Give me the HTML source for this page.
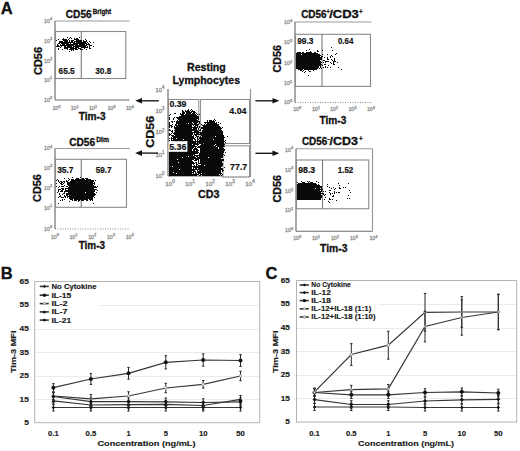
<!DOCTYPE html><html><head><meta charset="utf-8"><style>html,body{margin:0;padding:0;background:#fff;overflow:hidden;font-family:"Liberation Sans",sans-serif;}svg{display:block;}</style></head><body><svg width="520" height="451" viewBox="0 0 520 451" font-family='"Liberation Sans", sans-serif'><rect width="520" height="451" fill="#fff"/><text x="0.80" y="14.00" font-size="16.5" font-weight="bold" fill="#111" text-anchor="start" stroke="#111" stroke-width="0.3" >A</text><text x="0.80" y="279.00" font-size="16.5" font-weight="bold" fill="#111" text-anchor="start" stroke="#111" stroke-width="0.3" >B</text><text x="265.50" y="279.00" font-size="16.5" font-weight="bold" fill="#111" text-anchor="start" stroke="#111" stroke-width="0.3" >C</text><line x1="55" y1="21" x2="129.5" y2="21" stroke="#9a9a9a" stroke-width="1.2" /><line x1="55" y1="21" x2="55" y2="100" stroke="#7a7a7a" stroke-width="1.3" /><line x1="55" y1="100" x2="129.5" y2="100" stroke="#6a6a6a" stroke-width="1.2" /><text x="52.20" y="22.50" font-size="5.3" fill="#7a7a7a" stroke="#999" stroke-width="0.3" text-anchor="end">10<tspan font-size="4.03" dy="-2.01">4</tspan></text><text x="52.20" y="42.50" font-size="5.3" fill="#7a7a7a" stroke="#999" stroke-width="0.3" text-anchor="end">10<tspan font-size="4.03" dy="-2.01">3</tspan></text><text x="52.20" y="62.50" font-size="5.3" fill="#7a7a7a" stroke="#999" stroke-width="0.3" text-anchor="end">10<tspan font-size="4.03" dy="-2.01">2</tspan></text><text x="52.20" y="81.50" font-size="5.3" fill="#7a7a7a" stroke="#999" stroke-width="0.3" text-anchor="end">10<tspan font-size="4.03" dy="-2.01">1</tspan></text><text x="52.20" y="101.50" font-size="5.3" fill="#7a7a7a" stroke="#999" stroke-width="0.3" text-anchor="end">10<tspan font-size="4.03" dy="-2.01">0</tspan></text><text x="56.50" y="110.00" font-size="5.3" fill="#7a7a7a" stroke="#999" stroke-width="0.3" text-anchor="middle">10<tspan font-size="4.03" dy="-2.01">0</tspan></text><text x="74.75" y="110.00" font-size="5.3" fill="#7a7a7a" stroke="#999" stroke-width="0.3" text-anchor="middle">10<tspan font-size="4.03" dy="-2.01">1</tspan></text><text x="93.00" y="110.00" font-size="5.3" fill="#7a7a7a" stroke="#999" stroke-width="0.3" text-anchor="middle">10<tspan font-size="4.03" dy="-2.01">2</tspan></text><text x="111.50" y="110.00" font-size="5.3" fill="#7a7a7a" stroke="#999" stroke-width="0.3" text-anchor="middle">10<tspan font-size="4.03" dy="-2.01">3</tspan></text><text x="130.00" y="110.00" font-size="5.3" fill="#7a7a7a" stroke="#999" stroke-width="0.3" text-anchor="middle">10<tspan font-size="4.03" dy="-2.01">4</tspan></text><rect x="55.5" y="31.5" width="70.25" height="47" stroke="#8a8a8a" stroke-width="1.1" fill="none"/><line x1="81.3" y1="31.5" x2="81.3" y2="78.5" stroke="#7a7a7a" stroke-width="1.1" /><text x="58.50" y="74.30" font-size="9.8" font-weight="bold" fill="#111" text-anchor="start" stroke="#111" stroke-width="0.2" textLength="16.20" lengthAdjust="spacingAndGlyphs" >65.5</text><text x="95.30" y="74.30" font-size="9.8" font-weight="bold" fill="#111" text-anchor="start" stroke="#111" stroke-width="0.2" textLength="16.00" lengthAdjust="spacingAndGlyphs" >30.8</text><text x="65.80" y="17.90" font-size="10" font-weight="bold" fill="#111" text-anchor="start" stroke="#111" stroke-width="0.3" textLength="25.90" lengthAdjust="spacingAndGlyphs" >CD56</text><text x="92.80" y="14.40" font-size="6.8" font-weight="bold" fill="#111" text-anchor="start" stroke="#111" stroke-width="0.3" textLength="18.40" lengthAdjust="spacingAndGlyphs" >Bright</text><text x="42.00" y="61.00" font-size="11" font-weight="bold" fill="#111" text-anchor="middle" stroke="#111" stroke-width="0.3" textLength="28.00" lengthAdjust="spacingAndGlyphs" transform="rotate(-90 42.00 61.00)" >CD56</text><text x="78.70" y="120.10" font-size="10.5" font-weight="bold" fill="#111" text-anchor="start" stroke="#111" stroke-width="0.3" textLength="26.90" lengthAdjust="spacingAndGlyphs" >Tim-3</text><line x1="55" y1="148.5" x2="130" y2="148.5" stroke="#9a9a9a" stroke-width="1.2" /><line x1="55" y1="148.5" x2="55" y2="229" stroke="#7a7a7a" stroke-width="1.3" /><line x1="55" y1="229" x2="130" y2="229" stroke="#8a8a8a" stroke-width="1.0" stroke-dasharray="1 1.5"/><text x="52.20" y="150.25" font-size="5.3" fill="#7a7a7a" stroke="#999" stroke-width="0.3" text-anchor="end">10<tspan font-size="4.03" dy="-2.01">4</tspan></text><text x="52.20" y="169.50" font-size="5.3" fill="#7a7a7a" stroke="#999" stroke-width="0.3" text-anchor="end">10<tspan font-size="4.03" dy="-2.01">3</tspan></text><text x="52.20" y="189.50" font-size="5.3" fill="#7a7a7a" stroke="#999" stroke-width="0.3" text-anchor="end">10<tspan font-size="4.03" dy="-2.01">2</tspan></text><text x="52.20" y="209.50" font-size="5.3" fill="#7a7a7a" stroke="#999" stroke-width="0.3" text-anchor="end">10<tspan font-size="4.03" dy="-2.01">1</tspan></text><text x="52.20" y="230.50" font-size="5.3" fill="#7a7a7a" stroke="#999" stroke-width="0.3" text-anchor="end">10<tspan font-size="4.03" dy="-2.01">0</tspan></text><text x="55.00" y="238.50" font-size="5.3" fill="#7a7a7a" stroke="#999" stroke-width="0.3" text-anchor="middle">10<tspan font-size="4.03" dy="-2.01">0</tspan></text><text x="73.50" y="238.50" font-size="5.3" fill="#7a7a7a" stroke="#999" stroke-width="0.3" text-anchor="middle">10<tspan font-size="4.03" dy="-2.01">1</tspan></text><text x="92.25" y="238.50" font-size="5.3" fill="#7a7a7a" stroke="#999" stroke-width="0.3" text-anchor="middle">10<tspan font-size="4.03" dy="-2.01">2</tspan></text><text x="111.00" y="238.50" font-size="5.3" fill="#7a7a7a" stroke="#999" stroke-width="0.3" text-anchor="middle">10<tspan font-size="4.03" dy="-2.01">3</tspan></text><text x="129.75" y="238.50" font-size="5.3" fill="#7a7a7a" stroke="#999" stroke-width="0.3" text-anchor="middle">10<tspan font-size="4.03" dy="-2.01">4</tspan></text><rect x="55.5" y="159.3" width="71" height="48" stroke="#8a8a8a" stroke-width="1.1" fill="none"/><line x1="81.25" y1="159.3" x2="81.25" y2="207.3" stroke="#7a7a7a" stroke-width="1.1" /><text x="57.20" y="173.00" font-size="9.8" font-weight="bold" fill="#111" text-anchor="start" stroke="#111" stroke-width="0.2" textLength="16.30" lengthAdjust="spacingAndGlyphs" >35.7</text><text x="95.70" y="173.00" font-size="9.8" font-weight="bold" fill="#111" text-anchor="start" stroke="#111" stroke-width="0.2" textLength="16.00" lengthAdjust="spacingAndGlyphs" >59.7</text><text x="69.20" y="145.60" font-size="10" font-weight="bold" fill="#111" text-anchor="start" stroke="#111" stroke-width="0.3" textLength="26.00" lengthAdjust="spacingAndGlyphs" >CD56</text><text x="96.20" y="142.20" font-size="6.8" font-weight="bold" fill="#111" text-anchor="start" stroke="#111" stroke-width="0.3" textLength="12.80" lengthAdjust="spacingAndGlyphs" >Dim</text><text x="41.30" y="188.00" font-size="11" font-weight="bold" fill="#111" text-anchor="middle" stroke="#111" stroke-width="0.3" textLength="27.80" lengthAdjust="spacingAndGlyphs" transform="rotate(-90 41.30 188.00)" >CD56</text><text x="78.70" y="249.30" font-size="10.5" font-weight="bold" fill="#111" text-anchor="start" stroke="#111" stroke-width="0.3" textLength="26.30" lengthAdjust="spacingAndGlyphs" >Tim-3</text><line x1="295" y1="22" x2="371.5" y2="22" stroke="#9a9a9a" stroke-width="1.2" /><line x1="295" y1="22" x2="295" y2="102.5" stroke="#7a7a7a" stroke-width="1.3" /><line x1="295" y1="102.5" x2="371.5" y2="102.5" stroke="#8a8a8a" stroke-width="1.0" stroke-dasharray="1 1.5"/><text x="292.20" y="24.00" font-size="5.3" fill="#7a7a7a" stroke="#999" stroke-width="0.3" text-anchor="end">10<tspan font-size="4.03" dy="-2.01">4</tspan></text><text x="292.20" y="44.00" font-size="5.3" fill="#7a7a7a" stroke="#999" stroke-width="0.3" text-anchor="end">10<tspan font-size="4.03" dy="-2.01">3</tspan></text><text x="292.20" y="65.25" font-size="5.3" fill="#7a7a7a" stroke="#999" stroke-width="0.3" text-anchor="end">10<tspan font-size="4.03" dy="-2.01">2</tspan></text><text x="292.20" y="85.25" font-size="5.3" fill="#7a7a7a" stroke="#999" stroke-width="0.3" text-anchor="end">10<tspan font-size="4.03" dy="-2.01">1</tspan></text><text x="292.20" y="104.00" font-size="5.3" fill="#7a7a7a" stroke="#999" stroke-width="0.3" text-anchor="end">10<tspan font-size="4.03" dy="-2.01">0</tspan></text><text x="297.25" y="111.30" font-size="5.3" fill="#7a7a7a" stroke="#999" stroke-width="0.3" text-anchor="middle">10<tspan font-size="4.03" dy="-2.01">0</tspan></text><text x="316.00" y="111.30" font-size="5.3" fill="#7a7a7a" stroke="#999" stroke-width="0.3" text-anchor="middle">10<tspan font-size="4.03" dy="-2.01">1</tspan></text><text x="334.00" y="111.30" font-size="5.3" fill="#7a7a7a" stroke="#999" stroke-width="0.3" text-anchor="middle">10<tspan font-size="4.03" dy="-2.01">2</tspan></text><text x="352.50" y="111.30" font-size="5.3" fill="#7a7a7a" stroke="#999" stroke-width="0.3" text-anchor="middle">10<tspan font-size="4.03" dy="-2.01">3</tspan></text><text x="371.00" y="111.30" font-size="5.3" fill="#7a7a7a" stroke="#999" stroke-width="0.3" text-anchor="middle">10<tspan font-size="4.03" dy="-2.01">4</tspan></text><rect x="295.5" y="34.3" width="75" height="52.1" stroke="#8a8a8a" stroke-width="1.1" fill="none"/><line x1="322" y1="34.25" x2="322" y2="87" stroke="#7a7a7a" stroke-width="1.1" /><text x="297.20" y="43.80" font-size="9.8" font-weight="bold" fill="#111" text-anchor="start" stroke="#111" stroke-width="0.2" textLength="16.30" lengthAdjust="spacingAndGlyphs" >99.3</text><text x="337.90" y="43.80" font-size="9.8" font-weight="bold" fill="#111" text-anchor="start" stroke="#111" stroke-width="0.2" textLength="15.40" lengthAdjust="spacingAndGlyphs" >0.64</text><text x="301.20" y="17.70" font-size="10" font-weight="bold" fill="#111" text-anchor="start" stroke="#111" stroke-width="0.3" textLength="25.30" lengthAdjust="spacingAndGlyphs" >CD56</text><text x="326.60" y="14.00" font-size="7" font-weight="bold" fill="#111" text-anchor="start" stroke="#111" stroke-width="0.3" textLength="3.20" lengthAdjust="spacingAndGlyphs" >+</text><text x="329.20" y="17.70" font-size="10" font-weight="bold" fill="#111" text-anchor="start" stroke="#111" stroke-width="0.3" textLength="29.60" lengthAdjust="spacingAndGlyphs" >/CD3</text><text x="359.20" y="14.00" font-size="7" font-weight="bold" fill="#111" text-anchor="start" stroke="#111" stroke-width="0.3" textLength="3.20" lengthAdjust="spacingAndGlyphs" >+</text><text x="281.30" y="58.75" font-size="11" font-weight="bold" fill="#111" text-anchor="middle" stroke="#111" stroke-width="0.3" textLength="27.50" lengthAdjust="spacingAndGlyphs" transform="rotate(-90 281.30 58.75)" >CD56</text><text x="319.50" y="123.60" font-size="10.5" font-weight="bold" fill="#111" text-anchor="start" stroke="#111" stroke-width="0.3" textLength="26.80" lengthAdjust="spacingAndGlyphs" >Tim-3</text><line x1="296" y1="148.75" x2="372.5" y2="148.75" stroke="#9a9a9a" stroke-width="1.2" /><line x1="296" y1="148.75" x2="296" y2="231.25" stroke="#7a7a7a" stroke-width="1.3" /><line x1="296" y1="231.25" x2="372.5" y2="231.25" stroke="#6a6a6a" stroke-width="1.2" /><line x1="372.5" y1="148.75" x2="372.5" y2="231.25" stroke="#9a9a9a" stroke-width="1.2" /><text x="293.20" y="151.50" font-size="5.3" fill="#7a7a7a" stroke="#999" stroke-width="0.3" text-anchor="end">10<tspan font-size="4.03" dy="-2.01">4</tspan></text><text x="293.20" y="171.50" font-size="5.3" fill="#7a7a7a" stroke="#999" stroke-width="0.3" text-anchor="end">10<tspan font-size="4.03" dy="-2.01">3</tspan></text><text x="293.20" y="192.75" font-size="5.3" fill="#7a7a7a" stroke="#999" stroke-width="0.3" text-anchor="end">10<tspan font-size="4.03" dy="-2.01">2</tspan></text><text x="293.20" y="212.00" font-size="5.3" fill="#7a7a7a" stroke="#999" stroke-width="0.3" text-anchor="end">10<tspan font-size="4.03" dy="-2.01">1</tspan></text><text x="293.20" y="232.00" font-size="5.3" fill="#7a7a7a" stroke="#999" stroke-width="0.3" text-anchor="end">10<tspan font-size="4.03" dy="-2.01">0</tspan></text><text x="297.25" y="240.00" font-size="5.3" fill="#7a7a7a" stroke="#999" stroke-width="0.3" text-anchor="middle">10<tspan font-size="4.03" dy="-2.01">0</tspan></text><text x="316.00" y="240.00" font-size="5.3" fill="#7a7a7a" stroke="#999" stroke-width="0.3" text-anchor="middle">10<tspan font-size="4.03" dy="-2.01">1</tspan></text><text x="335.00" y="240.00" font-size="5.3" fill="#7a7a7a" stroke="#999" stroke-width="0.3" text-anchor="middle">10<tspan font-size="4.03" dy="-2.01">2</tspan></text><text x="354.00" y="240.00" font-size="5.3" fill="#7a7a7a" stroke="#999" stroke-width="0.3" text-anchor="middle">10<tspan font-size="4.03" dy="-2.01">3</tspan></text><text x="373.50" y="240.00" font-size="5.3" fill="#7a7a7a" stroke="#999" stroke-width="0.3" text-anchor="middle">10<tspan font-size="4.03" dy="-2.01">4</tspan></text><rect x="296.5" y="160" width="72.25" height="48.75" stroke="#8a8a8a" stroke-width="1.1" fill="none"/><line x1="322.5" y1="160" x2="322.5" y2="208.75" stroke="#7a7a7a" stroke-width="1.1" /><text x="298.20" y="173.40" font-size="9.8" font-weight="bold" fill="#111" text-anchor="start" stroke="#111" stroke-width="0.2" textLength="17.00" lengthAdjust="spacingAndGlyphs" >98.3</text><text x="337.80" y="173.40" font-size="9.8" font-weight="bold" fill="#111" text-anchor="start" stroke="#111" stroke-width="0.2" textLength="15.50" lengthAdjust="spacingAndGlyphs" >1.52</text><text x="301.90" y="144.60" font-size="10" font-weight="bold" fill="#111" text-anchor="start" stroke="#111" stroke-width="0.3" textLength="25.40" lengthAdjust="spacingAndGlyphs" >CD56</text><text x="327.30" y="140.50" font-size="7" font-weight="bold" fill="#111" text-anchor="start" stroke="#111" stroke-width="0.3" textLength="2.60" lengthAdjust="spacingAndGlyphs" >-</text><text x="329.60" y="144.60" font-size="10" font-weight="bold" fill="#111" text-anchor="start" stroke="#111" stroke-width="0.3" textLength="28.40" lengthAdjust="spacingAndGlyphs" >/CD3</text><text x="359.20" y="141.00" font-size="7" font-weight="bold" fill="#111" text-anchor="start" stroke="#111" stroke-width="0.3" textLength="3.20" lengthAdjust="spacingAndGlyphs" >+</text><text x="281.30" y="188.75" font-size="11" font-weight="bold" fill="#111" text-anchor="middle" stroke="#111" stroke-width="0.3" textLength="27.50" lengthAdjust="spacingAndGlyphs" transform="rotate(-90 281.30 188.75)" >CD56</text><text x="320.00" y="252.40" font-size="10.5" font-weight="bold" fill="#111" text-anchor="start" stroke="#111" stroke-width="0.3" textLength="27.50" lengthAdjust="spacingAndGlyphs" >Tim-3</text><text x="187.00" y="70.60" font-size="11" font-weight="bold" fill="#111" text-anchor="start" stroke="#111" stroke-width="0.3" textLength="38.80" lengthAdjust="spacingAndGlyphs" >Resting</text><text x="172.50" y="83.60" font-size="11" font-weight="bold" fill="#111" text-anchor="start" stroke="#111" stroke-width="0.3" textLength="67.50" lengthAdjust="spacingAndGlyphs" >Lymphocytes</text><line x1="168" y1="89" x2="168" y2="176" stroke="#7a7a7a" stroke-width="1.3" /><line x1="250.5" y1="89" x2="250.5" y2="177" stroke="#9a9a9a" stroke-width="1.2" /><line x1="168" y1="176" x2="223" y2="176" stroke="#6a6a6a" stroke-width="1.2" /><line x1="223" y1="177" x2="249" y2="177" stroke="#8a8a8a" stroke-width="1.0" stroke-dasharray="1 1.5"/><rect x="168.5" y="99.5" width="30.3" height="44.0" stroke="#8a8a8a" stroke-width="1.0" fill="none"/><rect x="200.6" y="99.5" width="48.9" height="44.0" stroke="#8a8a8a" stroke-width="1.0" fill="none"/><rect x="223" y="145.8" width="26.5" height="31.2" stroke="#8a8a8a" stroke-width="1.0" fill="none"/><text x="164.40" y="91.50" font-size="5.8" fill="#7a7a7a" stroke="#999" stroke-width="0.3" text-anchor="end">10<tspan font-size="4.41" dy="-2.20">4</tspan></text><text x="164.40" y="112.50" font-size="5.8" fill="#7a7a7a" stroke="#999" stroke-width="0.3" text-anchor="end">10<tspan font-size="4.41" dy="-2.20">3</tspan></text><text x="164.40" y="134.00" font-size="5.8" fill="#7a7a7a" stroke="#999" stroke-width="0.3" text-anchor="end">10<tspan font-size="4.41" dy="-2.20">2</tspan></text><text x="164.40" y="156.50" font-size="5.8" fill="#7a7a7a" stroke="#999" stroke-width="0.3" text-anchor="end">10<tspan font-size="4.41" dy="-2.20">1</tspan></text><text x="164.40" y="177.50" font-size="5.8" fill="#7a7a7a" stroke="#999" stroke-width="0.3" text-anchor="end">10<tspan font-size="4.41" dy="-2.20">0</tspan></text><text x="170.05" y="185.60" font-size="6.2" fill="#7a7a7a" stroke="#999" stroke-width="0.3" text-anchor="middle">10<tspan font-size="4.71" dy="-2.36">0</tspan></text><text x="190.05" y="185.60" font-size="6.2" fill="#7a7a7a" stroke="#999" stroke-width="0.3" text-anchor="middle">10<tspan font-size="4.71" dy="-2.36">1</tspan></text><text x="210.05" y="185.60" font-size="6.2" fill="#7a7a7a" stroke="#999" stroke-width="0.3" text-anchor="middle">10<tspan font-size="4.71" dy="-2.36">2</tspan></text><text x="230.05" y="185.60" font-size="6.2" fill="#7a7a7a" stroke="#999" stroke-width="0.3" text-anchor="middle">10<tspan font-size="4.71" dy="-2.36">3</tspan></text><text x="250.05" y="185.60" font-size="6.2" fill="#7a7a7a" stroke="#999" stroke-width="0.3" text-anchor="middle">10<tspan font-size="4.71" dy="-2.36">4</tspan></text><text x="153.90" y="131.80" font-size="11.5" font-weight="bold" fill="#111" text-anchor="middle" stroke="#111" stroke-width="0.3" textLength="32.00" lengthAdjust="spacingAndGlyphs" transform="rotate(-90 153.90 131.80)" >CD56</text><text x="198.00" y="198.20" font-size="11" font-weight="bold" fill="#111" text-anchor="start" stroke="#111" stroke-width="0.3" textLength="21.50" lengthAdjust="spacingAndGlyphs" >CD3</text><line x1="158.8" y1="100.8" x2="141.5" y2="100.8" stroke="#151515" stroke-width="1.35" /><path d="M135.2 100.8 L142.0 98.0 L142.0 103.6Z" fill="#111"/><line x1="158.2" y1="153.1" x2="141.5" y2="153.1" stroke="#151515" stroke-width="1.35" /><path d="M135.2 153.1 L142.0 150.29999999999998 L142.0 155.9Z" fill="#111"/><line x1="255.4" y1="100.8" x2="273.0" y2="100.8" stroke="#151515" stroke-width="1.35" /><path d="M279.3 100.8 L272.5 98.0 L272.5 103.6Z" fill="#111"/><line x1="255.4" y1="153.3" x2="273.0" y2="153.3" stroke="#151515" stroke-width="1.35" /><path d="M279.3 153.3 L272.5 150.5 L272.5 156.10000000000002Z" fill="#111"/><path fill="#0a0a0a" d="M67 37h1v1h-1zM70 37h1v1h-1zM79 37h1v1h-1zM63 38h1v1h-1zM69 38h1v1h-1zM71 38h1v1h-1zM74 38h1v1h-1zM76 38h2v1h-2zM58 39h1v1h-1zM62 39h5v1h-5zM68 39h1v1h-1zM74 39h5v1h-5zM85 39h1v1h-1zM56 40h1v1h-1zM63 40h5v1h-5zM69 40h1v1h-1zM71 40h3v1h-3zM76 40h6v1h-6zM83 40h1v1h-1zM86 40h1v1h-1zM59 41h4v1h-4zM64 41h4v1h-4zM69 41h1v1h-1zM71 41h2v1h-2zM74 41h8v1h-8zM83 41h4v1h-4zM89 41h1v1h-1zM59 42h16v1h-16zM76 42h10v1h-10zM87 42h1v1h-1zM90 42h1v1h-1zM93 42h1v1h-1zM58 43h2v1h-2zM61 43h8v1h-8zM70 43h1v1h-1zM73 43h14v1h-14zM88 43h1v1h-1zM57 44h1v1h-1zM60 44h1v1h-1zM62 44h3v1h-3zM66 44h12v1h-12zM79 44h6v1h-6zM86 44h4v1h-4zM57 45h2v1h-2zM60 45h14v1h-14zM75 45h12v1h-12zM89 45h3v1h-3zM56 46h4v1h-4zM61 46h1v1h-1zM64 46h2v1h-2zM67 46h5v1h-5zM73 46h13v1h-13zM87 46h1v1h-1zM89 46h1v1h-1zM93 46h1v1h-1zM60 47h1v1h-1zM64 47h10v1h-10zM75 47h4v1h-4zM81 47h7v1h-7zM89 47h1v1h-1zM331 47h1v1h-1zM58 48h1v1h-1zM64 48h4v1h-4zM70 48h7v1h-7zM78 48h3v1h-3zM84 48h1v1h-1zM89 48h2v1h-2zM58 49h1v1h-1zM62 49h1v1h-1zM67 49h1v1h-1zM69 49h5v1h-5zM75 49h3v1h-3zM80 49h3v1h-3zM86 49h1v1h-1zM309 49h1v1h-1zM71 50h1v1h-1zM73 50h1v1h-1zM306 50h1v1h-1zM317 50h1v1h-1zM322 50h1v1h-1zM332 50h1v1h-1zM69 51h1v1h-1zM310 51h1v1h-1zM317 51h2v1h-2zM297 52h4v1h-4zM302 52h2v1h-2zM306 52h6v1h-6zM314 52h2v1h-2zM296 53h22v1h-22zM336 53h1v1h-1zM296 54h5v1h-5zM302 54h18v1h-18zM322 54h1v1h-1zM327 54h1v1h-1zM335 54h1v1h-1zM296 55h25v1h-25zM331 55h1v1h-1zM296 56h24v1h-24zM321 56h2v1h-2zM330 56h1v1h-1zM332 56h1v1h-1zM296 57h26v1h-26zM324 57h1v1h-1zM327 57h1v1h-1zM330 57h1v1h-1zM296 58h26v1h-26zM327 58h1v1h-1zM334 58h1v1h-1zM296 59h26v1h-26zM327 59h2v1h-2zM331 59h1v1h-1zM334 59h1v1h-1zM296 60h24v1h-24zM323 60h2v1h-2zM332 60h1v1h-1zM334 60h1v1h-1zM296 61h25v1h-25zM325 61h4v1h-4zM333 61h3v1h-3zM296 62h26v1h-26zM323 62h1v1h-1zM325 62h1v1h-1zM330 62h1v1h-1zM333 62h1v1h-1zM337 62h1v1h-1zM296 63h25v1h-25zM331 63h1v1h-1zM333 63h1v1h-1zM296 64h26v1h-26zM324 64h2v1h-2zM333 64h2v1h-2zM296 65h25v1h-25zM322 65h1v1h-1zM328 65h1v1h-1zM296 66h23v1h-23zM320 66h1v1h-1zM325 66h1v1h-1zM296 67h23v1h-23zM320 67h1v1h-1zM323 67h1v1h-1zM325 67h1v1h-1zM327 67h1v1h-1zM330 67h1v1h-1zM338 67h1v1h-1zM296 68h22v1h-22zM319 68h1v1h-1zM321 68h1v1h-1zM298 69h5v1h-5zM304 69h13v1h-13zM341 69h1v1h-1zM300 70h2v1h-2zM303 70h1v1h-1zM308 70h1v1h-1zM313 70h1v1h-1zM302 71h1v1h-1zM305 71h1v1h-1zM309 71h2v1h-2zM304 72h1v1h-1zM308 75h1v1h-1zM188 109h1v1h-1zM191 109h1v1h-1zM182 110h1v1h-1zM185 110h1v1h-1zM187 110h2v1h-2zM190 110h1v1h-1zM192 110h1v1h-1zM182 111h2v1h-2zM185 111h5v1h-5zM191 111h4v1h-4zM182 112h3v1h-3zM186 112h6v1h-6zM193 112h3v1h-3zM174 113h2v1h-2zM180 113h1v1h-1zM182 113h3v1h-3zM186 113h5v1h-5zM192 113h3v1h-3zM196 113h1v1h-1zM170 114h1v1h-1zM180 114h4v1h-4zM185 114h11v1h-11zM197 114h1v1h-1zM199 114h1v1h-1zM169 115h1v1h-1zM181 115h16v1h-16zM179 116h20v1h-20zM169 117h1v1h-1zM174 117h1v1h-1zM176 117h23v1h-23zM169 118h1v1h-1zM173 118h1v1h-1zM177 118h22v1h-22zM169 119h1v1h-1zM173 119h1v1h-1zM178 119h19v1h-19zM198 119h1v1h-1zM214 119h1v1h-1zM177 120h1v1h-1zM179 120h19v1h-19zM207 120h1v1h-1zM209 120h3v1h-3zM213 120h1v1h-1zM215 120h1v1h-1zM171 121h2v1h-2zM174 121h1v1h-1zM176 121h24v1h-24zM207 121h1v1h-1zM209 121h6v1h-6zM169 122h1v1h-1zM172 122h1v1h-1zM176 122h16v1h-16zM193 122h5v1h-5zM199 122h1v1h-1zM204 122h11v1h-11zM216 122h1v1h-1zM218 122h1v1h-1zM169 123h1v1h-1zM176 123h12v1h-12zM189 123h4v1h-4zM194 123h3v1h-3zM199 123h1v1h-1zM205 123h1v1h-1zM207 123h10v1h-10zM220 123h1v1h-1zM169 124h1v1h-1zM172 124h1v1h-1zM175 124h2v1h-2zM178 124h21v1h-21zM201 124h1v1h-1zM204 124h1v1h-1zM206 124h13v1h-13zM169 125h3v1h-3zM175 125h17v1h-17zM193 125h1v1h-1zM195 125h3v1h-3zM202 125h17v1h-17zM169 126h1v1h-1zM171 126h2v1h-2zM174 126h1v1h-1zM176 126h16v1h-16zM194 126h2v1h-2zM197 126h1v1h-1zM199 126h1v1h-1zM203 126h17v1h-17zM169 127h1v1h-1zM171 127h1v1h-1zM174 127h24v1h-24zM199 127h1v1h-1zM201 127h20v1h-20zM222 127h1v1h-1zM174 128h18v1h-18zM193 128h4v1h-4zM198 128h1v1h-1zM201 128h21v1h-21zM169 129h1v1h-1zM175 129h22v1h-22zM198 129h1v1h-1zM200 129h1v1h-1zM203 129h18v1h-18zM169 130h2v1h-2zM172 130h1v1h-1zM174 130h24v1h-24zM199 130h2v1h-2zM202 130h20v1h-20zM171 131h2v1h-2zM175 131h17v1h-17zM194 131h5v1h-5zM202 131h21v1h-21zM172 132h1v1h-1zM174 132h49v1h-49zM169 133h1v1h-1zM171 133h1v1h-1zM173 133h20v1h-20zM194 133h1v1h-1zM196 133h3v1h-3zM200 133h23v1h-23zM169 134h2v1h-2zM174 134h19v1h-19zM194 134h29v1h-29zM169 135h1v1h-1zM171 135h3v1h-3zM175 135h17v1h-17zM193 135h1v1h-1zM195 135h2v1h-2zM201 135h23v1h-23zM172 136h22v1h-22zM196 136h3v1h-3zM200 136h1v1h-1zM202 136h13v1h-13zM216 136h8v1h-8zM227 136h1v1h-1zM171 137h1v1h-1zM173 137h21v1h-21zM195 137h1v1h-1zM197 137h1v1h-1zM199 137h26v1h-26zM169 138h1v1h-1zM171 138h5v1h-5zM177 138h18v1h-18zM197 138h1v1h-1zM199 138h25v1h-25zM171 139h1v1h-1zM173 139h10v1h-10zM184 139h9v1h-9zM194 139h2v1h-2zM197 139h2v1h-2zM200 139h13v1h-13zM214 139h10v1h-10zM169 140h1v1h-1zM171 140h22v1h-22zM195 140h1v1h-1zM197 140h1v1h-1zM199 140h25v1h-25zM225 140h1v1h-1zM169 141h1v1h-1zM173 141h13v1h-13zM187 141h38v1h-38zM169 142h1v1h-1zM171 142h1v1h-1zM173 142h23v1h-23zM197 142h27v1h-27zM225 142h1v1h-1zM169 143h4v1h-4zM174 143h9v1h-9zM184 143h1v1h-1zM186 143h12v1h-12zM199 143h4v1h-4zM204 143h20v1h-20zM169 144h23v1h-23zM193 144h6v1h-6zM201 144h14v1h-14zM216 144h9v1h-9zM169 145h26v1h-26zM197 145h1v1h-1zM200 145h14v1h-14zM215 145h9v1h-9zM170 146h27v1h-27zM198 146h18v1h-18zM217 146h8v1h-8zM169 147h25v1h-25zM195 147h1v1h-1zM197 147h21v1h-21zM219 147h4v1h-4zM169 148h24v1h-24zM194 148h3v1h-3zM200 148h18v1h-18zM219 148h5v1h-5zM169 149h7v1h-7zM177 149h15v1h-15zM193 149h5v1h-5zM200 149h25v1h-25zM169 150h23v1h-23zM193 150h2v1h-2zM196 150h3v1h-3zM200 150h25v1h-25zM169 151h29v1h-29zM200 151h24v1h-24zM169 152h30v1h-30zM200 152h24v1h-24zM225 152h1v1h-1zM169 153h29v1h-29zM199 153h24v1h-24zM169 154h26v1h-26zM199 154h25v1h-25zM169 155h24v1h-24zM194 155h29v1h-29zM224 155h1v1h-1zM169 156h19v1h-19zM189 156h6v1h-6zM196 156h2v1h-2zM199 156h24v1h-24zM169 157h13v1h-13zM183 157h13v1h-13zM197 157h11v1h-11zM209 157h14v1h-14zM169 158h52v1h-52zM169 159h8v1h-8zM178 159h16v1h-16zM195 159h4v1h-4zM200 159h24v1h-24zM169 160h23v1h-23zM194 160h3v1h-3zM198 160h1v1h-1zM200 160h24v1h-24zM169 161h24v1h-24zM198 161h1v1h-1zM200 161h22v1h-22zM169 162h9v1h-9zM179 162h15v1h-15zM195 162h2v1h-2zM198 162h1v1h-1zM200 162h22v1h-22zM169 163h26v1h-26zM196 163h1v1h-1zM198 163h25v1h-25zM169 164h23v1h-23zM193 164h1v1h-1zM196 164h2v1h-2zM201 164h22v1h-22zM169 165h23v1h-23zM194 165h1v1h-1zM196 165h1v1h-1zM198 165h6v1h-6zM205 165h18v1h-18zM169 166h3v1h-3zM173 166h49v1h-49zM169 167h23v1h-23zM193 167h28v1h-28zM224 167h1v1h-1zM169 168h23v1h-23zM193 168h1v1h-1zM195 168h2v1h-2zM198 168h25v1h-25zM169 169h10v1h-10zM180 169h43v1h-43zM169 170h26v1h-26zM197 170h1v1h-1zM199 170h22v1h-22zM222 170h2v1h-2zM169 171h23v1h-23zM193 171h3v1h-3zM197 171h24v1h-24zM222 171h1v1h-1zM169 172h4v1h-4zM174 172h20v1h-20zM195 172h1v1h-1zM197 172h24v1h-24zM169 173h7v1h-7zM177 173h15v1h-15zM193 173h1v1h-1zM195 173h2v1h-2zM198 173h3v1h-3zM202 173h20v1h-20zM169 174h30v1h-30zM200 174h19v1h-19zM220 174h1v1h-1zM222 174h1v1h-1zM169 175h28v1h-28zM199 175h2v1h-2zM202 175h18v1h-18zM221 175h1v1h-1zM72 177h1v1h-1zM80 177h1v1h-1zM64 178h1v1h-1zM68 178h1v1h-1zM76 178h3v1h-3zM82 178h2v1h-2zM85 178h3v1h-3zM57 179h1v1h-1zM69 179h1v1h-1zM71 179h3v1h-3zM75 179h10v1h-10zM86 179h5v1h-5zM56 180h1v1h-1zM58 180h1v1h-1zM66 180h1v1h-1zM68 180h1v1h-1zM71 180h23v1h-23zM95 180h1v1h-1zM58 181h1v1h-1zM60 181h2v1h-2zM63 181h2v1h-2zM66 181h2v1h-2zM70 181h24v1h-24zM301 181h1v1h-1zM307 181h1v1h-1zM309 181h1v1h-1zM316 181h1v1h-1zM59 182h1v1h-1zM61 182h2v1h-2zM64 182h1v1h-1zM67 182h26v1h-26zM94 182h1v1h-1zM297 182h1v1h-1zM302 182h3v1h-3zM308 182h1v1h-1zM310 182h3v1h-3zM318 182h1v1h-1zM56 183h1v1h-1zM60 183h2v1h-2zM63 183h1v1h-1zM67 183h28v1h-28zM298 183h18v1h-18zM338 183h1v1h-1zM348 183h1v1h-1zM61 184h2v1h-2zM67 184h26v1h-26zM94 184h1v1h-1zM297 184h20v1h-20zM318 184h1v1h-1zM327 184h1v1h-1zM64 185h1v1h-1zM68 185h26v1h-26zM297 185h23v1h-23zM339 185h1v1h-1zM56 186h1v1h-1zM59 186h1v1h-1zM61 186h3v1h-3zM66 186h2v1h-2zM69 186h27v1h-27zM97 186h1v1h-1zM297 186h25v1h-25zM327 186h1v1h-1zM58 187h1v1h-1zM68 187h29v1h-29zM297 187h25v1h-25zM329 187h1v1h-1zM333 187h1v1h-1zM339 187h1v1h-1zM343 187h1v1h-1zM345 187h1v1h-1zM61 188h3v1h-3zM65 188h29v1h-29zM297 188h18v1h-18zM316 188h4v1h-4zM321 188h1v1h-1zM331 188h1v1h-1zM335 188h1v1h-1zM339 188h2v1h-2zM58 189h3v1h-3zM62 189h2v1h-2zM65 189h1v1h-1zM68 189h29v1h-29zM297 189h26v1h-26zM334 189h1v1h-1zM58 190h1v1h-1zM61 190h2v1h-2zM65 190h30v1h-30zM97 190h1v1h-1zM297 190h23v1h-23zM321 190h1v1h-1zM329 190h2v1h-2zM349 190h1v1h-1zM58 191h1v1h-1zM60 191h3v1h-3zM64 191h31v1h-31zM297 191h25v1h-25zM323 191h1v1h-1zM325 191h1v1h-1zM334 191h1v1h-1zM57 192h1v1h-1zM64 192h1v1h-1zM68 192h17v1h-17zM86 192h8v1h-8zM96 192h1v1h-1zM297 192h24v1h-24zM329 192h1v1h-1zM334 192h1v1h-1zM336 192h1v1h-1zM338 192h2v1h-2zM350 192h1v1h-1zM59 193h1v1h-1zM63 193h2v1h-2zM66 193h29v1h-29zM297 193h27v1h-27zM330 193h1v1h-1zM332 193h1v1h-1zM334 193h1v1h-1zM59 194h1v1h-1zM62 194h1v1h-1zM66 194h30v1h-30zM297 194h24v1h-24zM323 194h1v1h-1zM325 194h1v1h-1zM330 194h1v1h-1zM60 195h1v1h-1zM64 195h1v1h-1zM66 195h2v1h-2zM69 195h26v1h-26zM297 195h25v1h-25zM324 195h1v1h-1zM333 195h1v1h-1zM348 195h1v1h-1zM59 196h2v1h-2zM64 196h2v1h-2zM67 196h27v1h-27zM297 196h25v1h-25zM332 196h2v1h-2zM58 197h1v1h-1zM61 197h3v1h-3zM65 197h1v1h-1zM67 197h1v1h-1zM69 197h24v1h-24zM94 197h1v1h-1zM297 197h25v1h-25zM325 197h1v1h-1zM69 198h24v1h-24zM297 198h24v1h-24zM329 198h1v1h-1zM347 198h1v1h-1zM349 198h1v1h-1zM62 199h1v1h-1zM64 199h1v1h-1zM70 199h3v1h-3zM74 199h14v1h-14zM89 199h4v1h-4zM297 199h24v1h-24zM324 199h1v1h-1zM329 199h2v1h-2zM332 199h1v1h-1zM60 200h1v1h-1zM62 200h1v1h-1zM72 200h1v1h-1zM74 200h3v1h-3zM78 200h2v1h-2zM81 200h3v1h-3zM86 200h2v1h-2zM90 200h1v1h-1zM92 200h1v1h-1zM336 200h1v1h-1zM69 201h1v1h-1zM78 201h1v1h-1zM328 201h1v1h-1zM329 202h1v1h-1zM58 203h1v1h-1zM93 203h1v1h-1z"/><rect x="168.6" y="141.2" width="18.8" height="10.6" fill="#fff"/><text x="169.40" y="107.10" font-size="9.8" font-weight="bold" fill="#111" text-anchor="start" stroke="#111" stroke-width="0.2" textLength="17.00" lengthAdjust="spacingAndGlyphs" >0.39</text><text x="229.30" y="114.30" font-size="9.8" font-weight="bold" fill="#111" text-anchor="start" stroke="#111" stroke-width="0.2" textLength="17.20" lengthAdjust="spacingAndGlyphs" >4.04</text><text x="169.20" y="150.10" font-size="9.8" font-weight="bold" fill="#111" text-anchor="start" stroke="#111" stroke-width="0.2" textLength="17.20" lengthAdjust="spacingAndGlyphs" >5.36</text><text x="230.00" y="169.90" font-size="9.8" font-weight="bold" fill="#111" text-anchor="start" stroke="#111" stroke-width="0.2" textLength="17.30" lengthAdjust="spacingAndGlyphs" >77.7</text><line x1="34.7" y1="305.5" x2="259.7" y2="305.5" stroke="#ebebeb" stroke-width="1" /><line x1="34.7" y1="329.5" x2="259.7" y2="329.5" stroke="#ebebeb" stroke-width="1" /><line x1="34.7" y1="352.5" x2="259.7" y2="352.5" stroke="#ebebeb" stroke-width="1" /><line x1="34.7" y1="376.5" x2="259.7" y2="376.5" stroke="#ebebeb" stroke-width="1" /><line x1="34.7" y1="399.5" x2="259.7" y2="399.5" stroke="#ebebeb" stroke-width="1" /><rect x="35.2" y="282.2" width="64.8" height="42.30000000000001" fill="#fff"/><rect x="34.7" y="281.5" width="225.0" height="141.2" stroke="#b4b4b4" stroke-width="1" fill="none"/><text x="28.80" y="283.90" font-size="6.8" font-weight="bold" fill="#1a1a1a" text-anchor="end" stroke="#1a1a1a" stroke-width="0.15" textLength="9.20" lengthAdjust="spacingAndGlyphs" >65</text><text x="28.80" y="307.43" font-size="6.8" font-weight="bold" fill="#1a1a1a" text-anchor="end" stroke="#1a1a1a" stroke-width="0.15" textLength="9.20" lengthAdjust="spacingAndGlyphs" >55</text><text x="28.80" y="330.97" font-size="6.8" font-weight="bold" fill="#1a1a1a" text-anchor="end" stroke="#1a1a1a" stroke-width="0.15" textLength="9.20" lengthAdjust="spacingAndGlyphs" >45</text><text x="28.80" y="354.50" font-size="6.8" font-weight="bold" fill="#1a1a1a" text-anchor="end" stroke="#1a1a1a" stroke-width="0.15" textLength="9.20" lengthAdjust="spacingAndGlyphs" >35</text><text x="28.80" y="378.03" font-size="6.8" font-weight="bold" fill="#1a1a1a" text-anchor="end" stroke="#1a1a1a" stroke-width="0.15" textLength="9.20" lengthAdjust="spacingAndGlyphs" >25</text><text x="28.80" y="401.57" font-size="6.8" font-weight="bold" fill="#1a1a1a" text-anchor="end" stroke="#1a1a1a" stroke-width="0.15" textLength="9.20" lengthAdjust="spacingAndGlyphs" >15</text><text x="28.80" y="425.10" font-size="6.8" font-weight="bold" fill="#1a1a1a" text-anchor="end" stroke="#1a1a1a" stroke-width="0.15" textLength="4.60" lengthAdjust="spacingAndGlyphs" >5</text><text x="53.40" y="435.60" font-size="6.8" font-weight="bold" fill="#1a1a1a" text-anchor="middle" stroke="#1a1a1a" stroke-width="0.15" textLength="10.60" lengthAdjust="spacingAndGlyphs" >0.1</text><text x="90.90" y="435.60" font-size="6.8" font-weight="bold" fill="#1a1a1a" text-anchor="middle" stroke="#1a1a1a" stroke-width="0.15" textLength="10.60" lengthAdjust="spacingAndGlyphs" >0.5</text><text x="128.50" y="435.60" font-size="6.8" font-weight="bold" fill="#1a1a1a" text-anchor="middle" stroke="#1a1a1a" stroke-width="0.15" textLength="4.20" lengthAdjust="spacingAndGlyphs" >1</text><text x="165.80" y="435.60" font-size="6.8" font-weight="bold" fill="#1a1a1a" text-anchor="middle" stroke="#1a1a1a" stroke-width="0.15" textLength="4.20" lengthAdjust="spacingAndGlyphs" >5</text><text x="203.20" y="435.60" font-size="6.8" font-weight="bold" fill="#1a1a1a" text-anchor="middle" stroke="#1a1a1a" stroke-width="0.15" textLength="8.60" lengthAdjust="spacingAndGlyphs" >10</text><text x="240.50" y="435.60" font-size="6.8" font-weight="bold" fill="#1a1a1a" text-anchor="middle" stroke="#1a1a1a" stroke-width="0.15" textLength="8.60" lengthAdjust="spacingAndGlyphs" >50</text><path d="M53.40 407.50 L90.90 407.50 L128.50 407.50 L165.80 407.50 L203.20 407.50 L240.50 407.50" fill="none" stroke="#363636" stroke-width="1.2"/><path d="M53.40 403.97V411.03" stroke="#2a2a2a" stroke-width="1.0" fill="none"/><path d="M52.20 403.97h2.4M52.20 411.03h2.4" stroke="#222" stroke-width="1.0" fill="none"/><path d="M53.40 405.70L55.20 407.50L53.40 409.30L51.60 407.50Z" fill="#111"/><path d="M90.90 403.97V411.03" stroke="#2a2a2a" stroke-width="1.0" fill="none"/><path d="M89.70 403.97h2.4M89.70 411.03h2.4" stroke="#222" stroke-width="1.0" fill="none"/><path d="M90.90 405.70L92.70 407.50L90.90 409.30L89.10 407.50Z" fill="#111"/><path d="M128.50 403.97V411.03" stroke="#2a2a2a" stroke-width="1.0" fill="none"/><path d="M127.30 403.97h2.4M127.30 411.03h2.4" stroke="#222" stroke-width="1.0" fill="none"/><path d="M128.50 405.70L130.30 407.50L128.50 409.30L126.70 407.50Z" fill="#111"/><path d="M165.80 403.97V411.03" stroke="#2a2a2a" stroke-width="1.0" fill="none"/><path d="M164.60 403.97h2.4M164.60 411.03h2.4" stroke="#222" stroke-width="1.0" fill="none"/><path d="M165.80 405.70L167.60 407.50L165.80 409.30L164.00 407.50Z" fill="#111"/><path d="M203.20 403.97V411.03" stroke="#2a2a2a" stroke-width="1.0" fill="none"/><path d="M202.00 403.97h2.4M202.00 411.03h2.4" stroke="#222" stroke-width="1.0" fill="none"/><path d="M203.20 405.70L205.00 407.50L203.20 409.30L201.40 407.50Z" fill="#111"/><path d="M240.50 403.97V411.03" stroke="#2a2a2a" stroke-width="1.0" fill="none"/><path d="M239.30 403.97h2.4M239.30 411.03h2.4" stroke="#222" stroke-width="1.0" fill="none"/><path d="M240.50 405.70L242.30 407.50L240.50 409.30L238.70 407.50Z" fill="#111"/><path d="M53.40 387.70 L90.90 379.00 L128.50 373.30 L165.80 362.30 L203.20 360.00 L240.50 360.50" fill="none" stroke="#363636" stroke-width="1.2"/><path d="M53.40 383.70V391.70" stroke="#2a2a2a" stroke-width="1.0" fill="none"/><path d="M52.20 383.70h2.4M52.20 391.70h2.4" stroke="#222" stroke-width="1.0" fill="none"/><circle cx="53.40" cy="387.70" r="2.0" fill="#111"/><path d="M90.90 373.59V384.41" stroke="#2a2a2a" stroke-width="1.0" fill="none"/><path d="M89.70 373.59h2.4M89.70 384.41h2.4" stroke="#222" stroke-width="1.0" fill="none"/><circle cx="90.90" cy="379.00" r="2.0" fill="#111"/><path d="M128.50 367.42V379.18" stroke="#2a2a2a" stroke-width="1.0" fill="none"/><path d="M127.30 367.42h2.4M127.30 379.18h2.4" stroke="#222" stroke-width="1.0" fill="none"/><circle cx="128.50" cy="373.30" r="2.0" fill="#111"/><path d="M165.80 355.71V368.89" stroke="#2a2a2a" stroke-width="1.0" fill="none"/><path d="M164.60 355.71h2.4M164.60 368.89h2.4" stroke="#222" stroke-width="1.0" fill="none"/><circle cx="165.80" cy="362.30" r="2.0" fill="#111"/><path d="M203.20 353.88V366.12" stroke="#2a2a2a" stroke-width="1.0" fill="none"/><path d="M202.00 353.88h2.4M202.00 366.12h2.4" stroke="#222" stroke-width="1.0" fill="none"/><circle cx="203.20" cy="360.00" r="2.0" fill="#111"/><path d="M240.50 354.62V366.38" stroke="#2a2a2a" stroke-width="1.0" fill="none"/><path d="M239.30 354.62h2.4M239.30 366.38h2.4" stroke="#222" stroke-width="1.0" fill="none"/><circle cx="240.50" cy="360.50" r="2.0" fill="#111"/><path d="M53.40 396.00 L90.90 398.80 L128.50 396.00 L165.80 388.00 L203.20 384.30 L240.50 376.00" fill="none" stroke="#363636" stroke-width="1.2"/><path d="M53.40 392.47V399.53" stroke="#2a2a2a" stroke-width="1.0" fill="none"/><path d="M52.20 392.47h2.4M52.20 399.53h2.4" stroke="#222" stroke-width="1.0" fill="none"/><circle cx="53.40" cy="396.00" r="1.40" fill="#ddd" stroke="#888" stroke-width="0.6"/><path d="M90.90 394.56V403.04" stroke="#2a2a2a" stroke-width="1.0" fill="none"/><path d="M89.70 394.56h2.4M89.70 403.04h2.4" stroke="#222" stroke-width="1.0" fill="none"/><circle cx="90.90" cy="398.80" r="1.40" fill="#ddd" stroke="#888" stroke-width="0.6"/><path d="M128.50 391.76V400.24" stroke="#2a2a2a" stroke-width="1.0" fill="none"/><path d="M127.30 391.76h2.4M127.30 400.24h2.4" stroke="#222" stroke-width="1.0" fill="none"/><circle cx="128.50" cy="396.00" r="1.40" fill="#ddd" stroke="#888" stroke-width="0.6"/><path d="M165.80 383.29V392.71" stroke="#2a2a2a" stroke-width="1.0" fill="none"/><path d="M164.60 383.29h2.4M164.60 392.71h2.4" stroke="#222" stroke-width="1.0" fill="none"/><circle cx="165.80" cy="388.00" r="1.40" fill="#ddd" stroke="#888" stroke-width="0.6"/><path d="M203.20 380.53V388.07" stroke="#2a2a2a" stroke-width="1.0" fill="none"/><path d="M202.00 380.53h2.4M202.00 388.07h2.4" stroke="#222" stroke-width="1.0" fill="none"/><circle cx="203.20" cy="384.30" r="1.40" fill="#ddd" stroke="#888" stroke-width="0.6"/><path d="M240.50 371.29V380.71" stroke="#2a2a2a" stroke-width="1.0" fill="none"/><path d="M239.30 371.29h2.4M239.30 380.71h2.4" stroke="#222" stroke-width="1.0" fill="none"/><circle cx="240.50" cy="376.00" r="1.40" fill="#ddd" stroke="#888" stroke-width="0.6"/><path d="M53.40 400.80 L90.90 405.00 L128.50 404.60 L165.80 404.30 L203.20 405.50 L240.50 399.30" fill="none" stroke="#363636" stroke-width="1.2"/><path d="M53.40 397.03V404.57" stroke="#2a2a2a" stroke-width="1.0" fill="none"/><path d="M52.20 397.03h2.4M52.20 404.57h2.4" stroke="#222" stroke-width="1.0" fill="none"/><path d="M53.40 398.80L55.40 402.40L51.40 402.40Z" fill="#111"/><path d="M90.90 401.23V408.77" stroke="#2a2a2a" stroke-width="1.0" fill="none"/><path d="M89.70 401.23h2.4M89.70 408.77h2.4" stroke="#222" stroke-width="1.0" fill="none"/><path d="M90.90 403.00L92.90 406.60L88.90 406.60Z" fill="#111"/><path d="M128.50 400.83V408.37" stroke="#2a2a2a" stroke-width="1.0" fill="none"/><path d="M127.30 400.83h2.4M127.30 408.37h2.4" stroke="#222" stroke-width="1.0" fill="none"/><path d="M128.50 402.60L130.50 406.20L126.50 406.20Z" fill="#111"/><path d="M165.80 400.53V408.07" stroke="#2a2a2a" stroke-width="1.0" fill="none"/><path d="M164.60 400.53h2.4M164.60 408.07h2.4" stroke="#222" stroke-width="1.0" fill="none"/><path d="M165.80 402.30L167.80 405.90L163.80 405.90Z" fill="#111"/><path d="M203.20 401.73V409.27" stroke="#2a2a2a" stroke-width="1.0" fill="none"/><path d="M202.00 401.73h2.4M202.00 409.27h2.4" stroke="#222" stroke-width="1.0" fill="none"/><path d="M203.20 403.50L205.20 407.10L201.20 407.10Z" fill="#111"/><path d="M240.50 395.53V403.07" stroke="#2a2a2a" stroke-width="1.0" fill="none"/><path d="M239.30 395.53h2.4M239.30 403.07h2.4" stroke="#222" stroke-width="1.0" fill="none"/><path d="M240.50 397.30L242.50 400.90L238.50 400.90Z" fill="#111"/><path d="M53.40 396.50 L90.90 401.70 L128.50 401.70 L165.80 401.80 L203.20 402.50 L240.50 401.80" fill="none" stroke="#363636" stroke-width="1.2"/><path d="M53.40 392.73V400.27" stroke="#2a2a2a" stroke-width="1.0" fill="none"/><path d="M52.20 392.73h2.4M52.20 400.27h2.4" stroke="#222" stroke-width="1.0" fill="none"/><path d="M53.40 394.50L55.40 396.50L53.40 398.50L51.40 396.50Z" fill="#111"/><path d="M90.90 397.93V405.47" stroke="#2a2a2a" stroke-width="1.0" fill="none"/><path d="M89.70 397.93h2.4M89.70 405.47h2.4" stroke="#222" stroke-width="1.0" fill="none"/><path d="M90.90 399.70L92.90 401.70L90.90 403.70L88.90 401.70Z" fill="#111"/><path d="M128.50 397.93V405.47" stroke="#2a2a2a" stroke-width="1.0" fill="none"/><path d="M127.30 397.93h2.4M127.30 405.47h2.4" stroke="#222" stroke-width="1.0" fill="none"/><path d="M128.50 399.70L130.50 401.70L128.50 403.70L126.50 401.70Z" fill="#111"/><path d="M165.80 398.03V405.57" stroke="#2a2a2a" stroke-width="1.0" fill="none"/><path d="M164.60 398.03h2.4M164.60 405.57h2.4" stroke="#222" stroke-width="1.0" fill="none"/><path d="M165.80 399.80L167.80 401.80L165.80 403.80L163.80 401.80Z" fill="#111"/><path d="M203.20 398.73V406.27" stroke="#2a2a2a" stroke-width="1.0" fill="none"/><path d="M202.00 398.73h2.4M202.00 406.27h2.4" stroke="#222" stroke-width="1.0" fill="none"/><path d="M203.20 400.50L205.20 402.50L203.20 404.50L201.20 402.50Z" fill="#111"/><path d="M240.50 398.03V405.57" stroke="#2a2a2a" stroke-width="1.0" fill="none"/><path d="M239.30 398.03h2.4M239.30 405.57h2.4" stroke="#222" stroke-width="1.0" fill="none"/><path d="M240.50 399.80L242.50 401.80L240.50 403.80L238.50 401.80Z" fill="#111"/><line x1="39.7" y1="286.4" x2="48.8" y2="286.4" stroke="#333" stroke-width="1.6" /><path d="M44.40 284.87L45.93 286.40L44.40 287.93L42.87 286.40Z" fill="#111"/><text x="51.50" y="288.80" font-size="6.8" font-weight="bold" fill="#1a1a1a" text-anchor="start" stroke="#1a1a1a" stroke-width="0.15" textLength="45.00" lengthAdjust="spacingAndGlyphs" >No Cytokine</text><line x1="39.7" y1="295.2" x2="48.8" y2="295.2" stroke="#333" stroke-width="1.6" /><circle cx="44.40" cy="295.20" r="1.7" fill="#111"/><text x="51.50" y="297.60" font-size="6.8" font-weight="bold" fill="#1a1a1a" text-anchor="start" stroke="#1a1a1a" stroke-width="0.15" textLength="19.80" lengthAdjust="spacingAndGlyphs" >IL-15</text><line x1="39.7" y1="303.6" x2="48.8" y2="303.6" stroke="#333" stroke-width="1.6" /><circle cx="44.40" cy="303.60" r="1.19" fill="#ddd" stroke="#888" stroke-width="0.6"/><text x="51.50" y="306.00" font-size="6.8" font-weight="bold" fill="#1a1a1a" text-anchor="start" stroke="#1a1a1a" stroke-width="0.15" textLength="16.00" lengthAdjust="spacingAndGlyphs" >IL-2</text><line x1="39.7" y1="311.9" x2="48.8" y2="311.9" stroke="#333" stroke-width="1.6" /><path d="M44.40 310.20L46.10 313.26L42.70 313.26Z" fill="#111"/><text x="51.50" y="314.30" font-size="6.8" font-weight="bold" fill="#1a1a1a" text-anchor="start" stroke="#1a1a1a" stroke-width="0.15" textLength="16.00" lengthAdjust="spacingAndGlyphs" >IL-7</text><line x1="39.7" y1="320.1" x2="48.8" y2="320.1" stroke="#333" stroke-width="1.6" /><path d="M44.40 318.40L46.10 320.10L44.40 321.80L42.70 320.10Z" fill="#111"/><text x="51.50" y="322.50" font-size="6.8" font-weight="bold" fill="#1a1a1a" text-anchor="start" stroke="#1a1a1a" stroke-width="0.15" textLength="19.60" lengthAdjust="spacingAndGlyphs" >IL-21</text><text x="16.30" y="351.80" font-size="7" font-weight="bold" fill="#1a1a1a" text-anchor="middle" stroke="#1a1a1a" stroke-width="0.15" textLength="42.60" lengthAdjust="spacingAndGlyphs" transform="rotate(-90 16.30 351.80)" >Tim-3 MFI</text><text x="97.50" y="445.60" font-size="7.6" font-weight="bold" fill="#1a1a1a" text-anchor="start" stroke="#1a1a1a" stroke-width="0.15" textLength="98.00" lengthAdjust="spacingAndGlyphs" >Concentration (ng/mL)</text><line x1="296.5" y1="304.5" x2="516.7" y2="304.5" stroke="#ebebeb" stroke-width="1" /><line x1="296.5" y1="328.5" x2="516.7" y2="328.5" stroke="#ebebeb" stroke-width="1" /><line x1="296.5" y1="351.5" x2="516.7" y2="351.5" stroke="#ebebeb" stroke-width="1" /><line x1="296.5" y1="375.5" x2="516.7" y2="375.5" stroke="#ebebeb" stroke-width="1" /><line x1="296.5" y1="398.5" x2="516.7" y2="398.5" stroke="#ebebeb" stroke-width="1" /><rect x="297" y="281.2" width="81" height="39.80000000000001" fill="#fff"/><rect x="296.5" y="280.5" width="220.20000000000005" height="141.5" stroke="#b4b4b4" stroke-width="1" fill="none"/><text x="289.90" y="282.90" font-size="6.8" font-weight="bold" fill="#1a1a1a" text-anchor="end" stroke="#1a1a1a" stroke-width="0.15" textLength="9.20" lengthAdjust="spacingAndGlyphs" >65</text><text x="289.90" y="306.48" font-size="6.8" font-weight="bold" fill="#1a1a1a" text-anchor="end" stroke="#1a1a1a" stroke-width="0.15" textLength="9.20" lengthAdjust="spacingAndGlyphs" >55</text><text x="289.90" y="330.07" font-size="6.8" font-weight="bold" fill="#1a1a1a" text-anchor="end" stroke="#1a1a1a" stroke-width="0.15" textLength="9.20" lengthAdjust="spacingAndGlyphs" >45</text><text x="289.90" y="353.65" font-size="6.8" font-weight="bold" fill="#1a1a1a" text-anchor="end" stroke="#1a1a1a" stroke-width="0.15" textLength="9.20" lengthAdjust="spacingAndGlyphs" >35</text><text x="289.90" y="377.23" font-size="6.8" font-weight="bold" fill="#1a1a1a" text-anchor="end" stroke="#1a1a1a" stroke-width="0.15" textLength="9.20" lengthAdjust="spacingAndGlyphs" >25</text><text x="289.90" y="400.82" font-size="6.8" font-weight="bold" fill="#1a1a1a" text-anchor="end" stroke="#1a1a1a" stroke-width="0.15" textLength="9.20" lengthAdjust="spacingAndGlyphs" >15</text><text x="289.90" y="424.40" font-size="6.8" font-weight="bold" fill="#1a1a1a" text-anchor="end" stroke="#1a1a1a" stroke-width="0.15" textLength="4.60" lengthAdjust="spacingAndGlyphs" >5</text><text x="314.50" y="435.60" font-size="6.8" font-weight="bold" fill="#1a1a1a" text-anchor="middle" stroke="#1a1a1a" stroke-width="0.15" textLength="10.60" lengthAdjust="spacingAndGlyphs" >0.1</text><text x="351.30" y="435.60" font-size="6.8" font-weight="bold" fill="#1a1a1a" text-anchor="middle" stroke="#1a1a1a" stroke-width="0.15" textLength="10.60" lengthAdjust="spacingAndGlyphs" >0.5</text><text x="388.30" y="435.60" font-size="6.8" font-weight="bold" fill="#1a1a1a" text-anchor="middle" stroke="#1a1a1a" stroke-width="0.15" textLength="4.20" lengthAdjust="spacingAndGlyphs" >1</text><text x="425.00" y="435.60" font-size="6.8" font-weight="bold" fill="#1a1a1a" text-anchor="middle" stroke="#1a1a1a" stroke-width="0.15" textLength="4.20" lengthAdjust="spacingAndGlyphs" >5</text><text x="461.80" y="435.60" font-size="6.8" font-weight="bold" fill="#1a1a1a" text-anchor="middle" stroke="#1a1a1a" stroke-width="0.15" textLength="8.60" lengthAdjust="spacingAndGlyphs" >10</text><text x="498.30" y="435.60" font-size="6.8" font-weight="bold" fill="#1a1a1a" text-anchor="middle" stroke="#1a1a1a" stroke-width="0.15" textLength="8.60" lengthAdjust="spacingAndGlyphs" >50</text><path d="M314.50 407.00 L351.30 407.00 L388.30 407.00 L425.00 407.50 L461.80 407.50 L498.30 407.50" fill="none" stroke="#363636" stroke-width="1.2"/><path d="M314.50 403.46V410.54" stroke="#2a2a2a" stroke-width="1.0" fill="none"/><path d="M313.30 403.46h2.4M313.30 410.54h2.4" stroke="#222" stroke-width="1.0" fill="none"/><path d="M314.50 405.20L316.30 407.00L314.50 408.80L312.70 407.00Z" fill="#111"/><path d="M351.30 403.46V410.54" stroke="#2a2a2a" stroke-width="1.0" fill="none"/><path d="M350.10 403.46h2.4M350.10 410.54h2.4" stroke="#222" stroke-width="1.0" fill="none"/><path d="M351.30 405.20L353.10 407.00L351.30 408.80L349.50 407.00Z" fill="#111"/><path d="M388.30 403.46V410.54" stroke="#2a2a2a" stroke-width="1.0" fill="none"/><path d="M387.10 403.46h2.4M387.10 410.54h2.4" stroke="#222" stroke-width="1.0" fill="none"/><path d="M388.30 405.20L390.10 407.00L388.30 408.80L386.50 407.00Z" fill="#111"/><path d="M425.00 403.96V411.04" stroke="#2a2a2a" stroke-width="1.0" fill="none"/><path d="M423.80 403.96h2.4M423.80 411.04h2.4" stroke="#222" stroke-width="1.0" fill="none"/><path d="M425.00 405.70L426.80 407.50L425.00 409.30L423.20 407.50Z" fill="#111"/><path d="M461.80 403.96V411.04" stroke="#2a2a2a" stroke-width="1.0" fill="none"/><path d="M460.60 403.96h2.4M460.60 411.04h2.4" stroke="#222" stroke-width="1.0" fill="none"/><path d="M461.80 405.70L463.60 407.50L461.80 409.30L460.00 407.50Z" fill="#111"/><path d="M498.30 403.96V411.04" stroke="#2a2a2a" stroke-width="1.0" fill="none"/><path d="M497.10 403.96h2.4M497.10 411.04h2.4" stroke="#222" stroke-width="1.0" fill="none"/><path d="M498.30 405.70L500.10 407.50L498.30 409.30L496.50 407.50Z" fill="#111"/><path d="M314.50 399.60 L351.30 404.50 L388.30 404.50 L425.00 401.00 L461.80 399.80 L498.30 399.30" fill="none" stroke="#363636" stroke-width="1.2"/><path d="M314.50 395.83V403.37" stroke="#2a2a2a" stroke-width="1.0" fill="none"/><path d="M313.30 395.83h2.4M313.30 403.37h2.4" stroke="#222" stroke-width="1.0" fill="none"/><path d="M314.50 397.60L316.50 399.60L314.50 401.60L312.50 399.60Z" fill="#111"/><path d="M351.30 400.73V408.27" stroke="#2a2a2a" stroke-width="1.0" fill="none"/><path d="M350.10 400.73h2.4M350.10 408.27h2.4" stroke="#222" stroke-width="1.0" fill="none"/><path d="M351.30 402.50L353.30 404.50L351.30 406.50L349.30 404.50Z" fill="#111"/><path d="M388.30 400.73V408.27" stroke="#2a2a2a" stroke-width="1.0" fill="none"/><path d="M387.10 400.73h2.4M387.10 408.27h2.4" stroke="#222" stroke-width="1.0" fill="none"/><path d="M388.30 402.50L390.30 404.50L388.30 406.50L386.30 404.50Z" fill="#111"/><path d="M425.00 397.23V404.77" stroke="#2a2a2a" stroke-width="1.0" fill="none"/><path d="M423.80 397.23h2.4M423.80 404.77h2.4" stroke="#222" stroke-width="1.0" fill="none"/><path d="M425.00 399.00L427.00 401.00L425.00 403.00L423.00 401.00Z" fill="#111"/><path d="M461.80 396.03V403.57" stroke="#2a2a2a" stroke-width="1.0" fill="none"/><path d="M460.60 396.03h2.4M460.60 403.57h2.4" stroke="#222" stroke-width="1.0" fill="none"/><path d="M461.80 397.80L463.80 399.80L461.80 401.80L459.80 399.80Z" fill="#111"/><path d="M498.30 395.53V403.07" stroke="#2a2a2a" stroke-width="1.0" fill="none"/><path d="M497.10 395.53h2.4M497.10 403.07h2.4" stroke="#222" stroke-width="1.0" fill="none"/><path d="M498.30 397.30L500.30 399.30L498.30 401.30L496.30 399.30Z" fill="#111"/><path d="M314.50 392.50 L351.30 394.80 L388.30 394.80 L425.00 392.50 L461.80 391.80 L498.30 393.00" fill="none" stroke="#363636" stroke-width="1.2"/><path d="M314.50 388.73V396.27" stroke="#2a2a2a" stroke-width="1.0" fill="none"/><path d="M313.30 388.73h2.4M313.30 396.27h2.4" stroke="#222" stroke-width="1.0" fill="none"/><circle cx="314.50" cy="392.50" r="2.0" fill="#111"/><path d="M351.30 391.03V398.57" stroke="#2a2a2a" stroke-width="1.0" fill="none"/><path d="M350.10 391.03h2.4M350.10 398.57h2.4" stroke="#222" stroke-width="1.0" fill="none"/><circle cx="351.30" cy="394.80" r="2.0" fill="#111"/><path d="M388.30 391.03V398.57" stroke="#2a2a2a" stroke-width="1.0" fill="none"/><path d="M387.10 391.03h2.4M387.10 398.57h2.4" stroke="#222" stroke-width="1.0" fill="none"/><circle cx="388.30" cy="394.80" r="2.0" fill="#111"/><path d="M425.00 388.73V396.27" stroke="#2a2a2a" stroke-width="1.0" fill="none"/><path d="M423.80 388.73h2.4M423.80 396.27h2.4" stroke="#222" stroke-width="1.0" fill="none"/><circle cx="425.00" cy="392.50" r="2.0" fill="#111"/><path d="M461.80 388.03V395.57" stroke="#2a2a2a" stroke-width="1.0" fill="none"/><path d="M460.60 388.03h2.4M460.60 395.57h2.4" stroke="#222" stroke-width="1.0" fill="none"/><circle cx="461.80" cy="391.80" r="2.0" fill="#111"/><path d="M498.30 389.23V396.77" stroke="#2a2a2a" stroke-width="1.0" fill="none"/><path d="M497.10 389.23h2.4M497.10 396.77h2.4" stroke="#222" stroke-width="1.0" fill="none"/><circle cx="498.30" cy="393.00" r="2.0" fill="#111"/><path d="M314.50 391.80 L351.30 354.50 L388.30 345.20 L425.00 312.30 L461.80 312.00 L498.30 312.00" fill="none" stroke="#363636" stroke-width="1.2"/><path d="M314.50 388.03V395.57" stroke="#2a2a2a" stroke-width="1.0" fill="none"/><path d="M313.30 388.03h2.4M313.30 395.57h2.4" stroke="#222" stroke-width="1.0" fill="none"/><circle cx="314.50" cy="391.80" r="1.40" fill="#ddd" stroke="#888" stroke-width="0.6"/><path d="M351.30 343.65V365.35" stroke="#2a2a2a" stroke-width="1.0" fill="none"/><path d="M350.10 343.65h2.4M350.10 365.35h2.4" stroke="#222" stroke-width="1.0" fill="none"/><circle cx="351.30" cy="354.50" r="1.40" fill="#ddd" stroke="#888" stroke-width="0.6"/><path d="M388.30 331.29V359.11" stroke="#2a2a2a" stroke-width="1.0" fill="none"/><path d="M387.10 331.29h2.4M387.10 359.11h2.4" stroke="#222" stroke-width="1.0" fill="none"/><circle cx="388.30" cy="345.20" r="1.40" fill="#ddd" stroke="#888" stroke-width="0.6"/><path d="M425.00 293.43V331.17" stroke="#2a2a2a" stroke-width="1.0" fill="none"/><path d="M423.80 293.43h2.4M423.80 331.17h2.4" stroke="#222" stroke-width="1.0" fill="none"/><circle cx="425.00" cy="312.30" r="1.40" fill="#ddd" stroke="#888" stroke-width="0.6"/><path d="M461.80 296.67V327.33" stroke="#2a2a2a" stroke-width="1.0" fill="none"/><path d="M460.60 296.67h2.4M460.60 327.33h2.4" stroke="#222" stroke-width="1.0" fill="none"/><circle cx="461.80" cy="312.00" r="1.40" fill="#ddd" stroke="#888" stroke-width="0.6"/><path d="M498.30 294.31V329.69" stroke="#2a2a2a" stroke-width="1.0" fill="none"/><path d="M497.10 294.31h2.4M497.10 329.69h2.4" stroke="#222" stroke-width="1.0" fill="none"/><circle cx="498.30" cy="312.00" r="1.40" fill="#ddd" stroke="#888" stroke-width="0.6"/><path d="M314.50 392.50 L351.30 389.60 L388.30 388.80 L425.00 326.50 L461.80 317.50 L498.30 312.00" fill="none" stroke="#363636" stroke-width="1.2"/><path d="M314.50 388.73V396.27" stroke="#2a2a2a" stroke-width="1.0" fill="none"/><path d="M313.30 388.73h2.4M313.30 396.27h2.4" stroke="#222" stroke-width="1.0" fill="none"/><circle cx="314.50" cy="392.50" r="1.00" fill="#ccc" stroke="#888" stroke-width="0.6"/><path d="M351.30 385.36V393.85" stroke="#2a2a2a" stroke-width="1.0" fill="none"/><path d="M350.10 385.36h2.4M350.10 393.85h2.4" stroke="#222" stroke-width="1.0" fill="none"/><circle cx="351.30" cy="389.60" r="1.00" fill="#ccc" stroke="#888" stroke-width="0.6"/><path d="M388.30 384.56V393.05" stroke="#2a2a2a" stroke-width="1.0" fill="none"/><path d="M387.10 384.56h2.4M387.10 393.05h2.4" stroke="#222" stroke-width="1.0" fill="none"/><circle cx="388.30" cy="388.80" r="1.00" fill="#ccc" stroke="#888" stroke-width="0.6"/><path d="M425.00 311.17V341.83" stroke="#2a2a2a" stroke-width="1.0" fill="none"/><path d="M423.80 311.17h2.4M423.80 341.83h2.4" stroke="#222" stroke-width="1.0" fill="none"/><circle cx="425.00" cy="326.50" r="1.00" fill="#ccc" stroke="#888" stroke-width="0.6"/><path d="M461.80 299.81V335.19" stroke="#2a2a2a" stroke-width="1.0" fill="none"/><path d="M460.60 299.81h2.4M460.60 335.19h2.4" stroke="#222" stroke-width="1.0" fill="none"/><circle cx="461.80" cy="317.50" r="1.00" fill="#ccc" stroke="#888" stroke-width="0.6"/><path d="M498.30 294.31V329.69" stroke="#2a2a2a" stroke-width="1.0" fill="none"/><path d="M497.10 294.31h2.4M497.10 329.69h2.4" stroke="#222" stroke-width="1.0" fill="none"/><circle cx="498.30" cy="312.00" r="1.00" fill="#ccc" stroke="#888" stroke-width="0.6"/><line x1="299.7" y1="285.0" x2="308.8" y2="285.0" stroke="#333" stroke-width="1.6" /><path d="M304.40 283.47L305.93 285.00L304.40 286.53L302.87 285.00Z" fill="#111"/><text x="311.30" y="287.40" font-size="6.8" font-weight="bold" fill="#1a1a1a" text-anchor="start" stroke="#1a1a1a" stroke-width="0.15" textLength="39.50" lengthAdjust="spacingAndGlyphs" >No Cytokine</text><line x1="299.7" y1="292.6" x2="308.8" y2="292.6" stroke="#333" stroke-width="1.6" /><path d="M304.40 290.90L306.10 292.60L304.40 294.30L302.70 292.60Z" fill="#111"/><text x="311.30" y="295.00" font-size="6.8" font-weight="bold" fill="#1a1a1a" text-anchor="start" stroke="#1a1a1a" stroke-width="0.15" textLength="19.50" lengthAdjust="spacingAndGlyphs" >IL-12</text><line x1="299.7" y1="300.6" x2="308.8" y2="300.6" stroke="#333" stroke-width="1.6" /><circle cx="304.40" cy="300.60" r="1.7" fill="#111"/><text x="311.30" y="303.00" font-size="6.8" font-weight="bold" fill="#1a1a1a" text-anchor="start" stroke="#1a1a1a" stroke-width="0.15" textLength="19.50" lengthAdjust="spacingAndGlyphs" >IL-18</text><line x1="299.7" y1="308.8" x2="308.8" y2="308.8" stroke="#333" stroke-width="1.6" /><circle cx="304.40" cy="308.80" r="1.19" fill="#ddd" stroke="#888" stroke-width="0.6"/><text x="311.30" y="311.20" font-size="6.8" font-weight="bold" fill="#1a1a1a" text-anchor="start" stroke="#1a1a1a" stroke-width="0.15" textLength="60.00" lengthAdjust="spacingAndGlyphs" >IL-12+IL-18 (1:1)</text><line x1="299.7" y1="317" x2="308.8" y2="317" stroke="#333" stroke-width="1.6" /><circle cx="304.40" cy="317.00" r="1.53" fill="#ccc" stroke="#888" stroke-width="0.6"/><text x="311.30" y="319.40" font-size="6.8" font-weight="bold" fill="#1a1a1a" text-anchor="start" stroke="#1a1a1a" stroke-width="0.15" textLength="64.30" lengthAdjust="spacingAndGlyphs" >IL-12+IL-18 (1:10)</text><text x="278.00" y="351.80" font-size="7" font-weight="bold" fill="#1a1a1a" text-anchor="middle" stroke="#1a1a1a" stroke-width="0.15" textLength="42.60" lengthAdjust="spacingAndGlyphs" transform="rotate(-90 278.00 351.80)" >Tim-3 MFI</text><text x="358.00" y="445.60" font-size="7.6" font-weight="bold" fill="#1a1a1a" text-anchor="start" stroke="#1a1a1a" stroke-width="0.15" textLength="96.00" lengthAdjust="spacingAndGlyphs" >Concentration (ng/mL)</text></svg></body></html>
